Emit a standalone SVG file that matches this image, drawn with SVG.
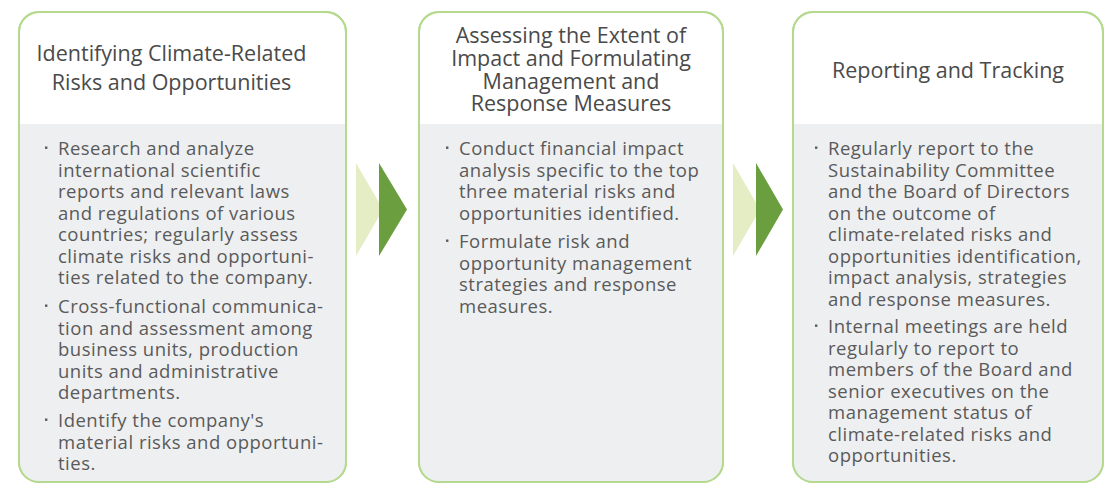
<svg xmlns="http://www.w3.org/2000/svg" width="1104" height="486" viewBox="0 0 1104 486">
<defs>
<style>
.frame{fill:#ffffff;stroke:#b5da8f;stroke-width:2}
.edge{fill:none;stroke:#b5da8f;stroke-width:2}
.panel{fill:#eeeff1}
.title{font-family:"Open Sans","Liberation Sans",sans-serif;font-size:21.5px;fill:#4a4a4a;text-anchor:middle}
.body{font-family:"Open Sans","Liberation Sans",sans-serif;font-size:18.5px;fill:#5a5a5a;letter-spacing:0.5px}
.dot{fill:#5a5a5a}
.light{fill:#e4edc4}
.dark{fill:#6b9e3f}
</style>
<clipPath id="c1"><rect x="19" y="12" width="327" height="470" rx="20"/></clipPath>
<clipPath id="c2"><rect x="419" y="12" width="304" height="470" rx="20"/></clipPath>
<clipPath id="c3"><rect x="793" y="12" width="310" height="470" rx="20"/></clipPath>
</defs>
<rect width="1104" height="486" fill="#ffffff"/>

<g id="node1">
<rect class="frame" x="19" y="12" width="327" height="470" rx="20"/>
<rect class="panel" x="19" y="124" width="327" height="358" clip-path="url(#c1)"/>
<rect class="edge" x="19" y="12" width="327" height="470" rx="20"/>
<text class="title"><tspan x="171.5" y="61">Identifying Climate-Related</tspan><tspan x="171.5" dy="29">Risks and Opportunities</tspan></text>
<rect class="dot" x="45" y="146.5" width="2.4" height="2.4"/>
<text class="body"><tspan x="58" y="155">Research and analyze</tspan><tspan x="58" dy="21.5">international scientific</tspan><tspan x="58" dy="21.5">reports and relevant laws</tspan><tspan x="58" dy="21.5">and regulations of various</tspan><tspan x="58" dy="21.5">countries; regularly assess</tspan><tspan x="58" dy="21.5">climate risks and opportuni-</tspan><tspan x="58" dy="21.5">ties related to the company.</tspan></text>
<rect class="dot" x="45" y="304.5" width="2.4" height="2.4"/>
<text class="body"><tspan x="58" y="313">Cross-functional communica-</tspan><tspan x="58" dy="21.5">tion and assessment among</tspan><tspan x="58" dy="21.5">business units, production</tspan><tspan x="58" dy="21.5">units and administrative</tspan><tspan x="58" dy="21.5">departments.</tspan></text>
<rect class="dot" x="45" y="418.5" width="2.4" height="2.4"/>
<text class="body"><tspan x="58" y="427">Identify the company's</tspan><tspan x="58" dy="21.5">material risks and opportuni-</tspan><tspan x="58" dy="21.5">ties.</tspan></text>
</g>

<g id="node2">
<rect class="frame" x="419" y="12" width="304" height="470" rx="20"/>
<rect class="panel" x="419" y="124" width="304" height="358" clip-path="url(#c2)"/>
<rect class="edge" x="419" y="12" width="304" height="470" rx="20"/>
<text class="title"><tspan x="571" y="43">Assessing the Extent of</tspan><tspan x="571" dy="23">Impact and Formulating</tspan><tspan x="571" dy="22.5">Management and</tspan><tspan x="571" dy="22.5">Response Measures</tspan></text>
<rect class="dot" x="446" y="146.5" width="2.4" height="2.4"/>
<text class="body"><tspan x="459" y="155">Conduct financial impact</tspan><tspan x="459" dy="21.5">analysis specific to the top</tspan><tspan x="459" dy="21.5">three material risks and</tspan><tspan x="459" dy="21.5">opportunities identified.</tspan></text>
<rect class="dot" x="446" y="239.5" width="2.4" height="2.4"/>
<text class="body"><tspan x="459" y="248">Formulate risk and</tspan><tspan x="459" dy="21.5">opportunity management</tspan><tspan x="459" dy="21.5">strategies and response</tspan><tspan x="459" dy="21.5">measures.</tspan></text>
</g>

<g id="node3">
<rect class="frame" x="793" y="12" width="310" height="470" rx="20"/>
<rect class="panel" x="793" y="124" width="310" height="358" clip-path="url(#c3)"/>
<rect class="edge" x="793" y="12" width="310" height="470" rx="20"/>
<text class="title" x="948" y="78">Reporting and Tracking</text>
<rect class="dot" x="815" y="146.5" width="2.4" height="2.4"/>
<text class="body"><tspan x="828" y="155">Regularly report to the</tspan><tspan x="828" dy="21.5">Sustainability Committee</tspan><tspan x="828" dy="21.5">and the Board of Directors</tspan><tspan x="828" dy="21.5">on the outcome of</tspan><tspan x="828" dy="21.5">climate-related risks and</tspan><tspan x="828" dy="21.5">opportunities identification,</tspan><tspan x="828" dy="21.5">impact analysis, strategies</tspan><tspan x="828" dy="21.5">and response measures.</tspan></text>
<rect class="dot" x="815" y="324.5" width="2.4" height="2.4"/>
<text class="body"><tspan x="828" y="333">Internal meetings are held</tspan><tspan x="828" dy="21.5">regularly to report to</tspan><tspan x="828" dy="21.5">members of the Board and</tspan><tspan x="828" dy="21.5">senior executives on the</tspan><tspan x="828" dy="21.5">management status of</tspan><tspan x="828" dy="21.5">climate-related risks and</tspan><tspan x="828" dy="21.5">opportunities.</tspan></text>
</g>

<g id="connectors">
<polygon class="light" points="356,163 383,209.5 356,256"/>
<polygon class="dark" points="379,163 407,209.5 379,256"/>
<polygon class="light" points="733,163 760,209.5 733,256"/>
<polygon class="dark" points="756,163 783,209.5 756,256"/>
</g>
</svg>
